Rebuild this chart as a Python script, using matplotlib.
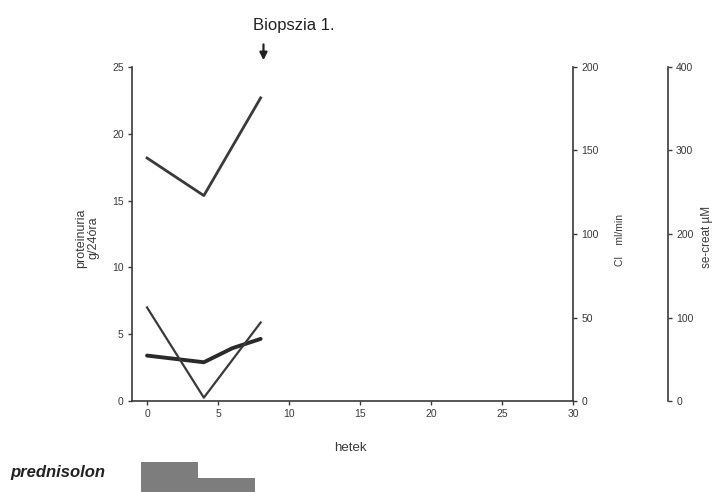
import matplotlib
matplotlib.use("Agg")
import matplotlib.pyplot as plt

plt.rcParams['font.family'] = ['Liberation Sans', 'DejaVu Sans']

# hetek (weeks)
weeks = [0, 4, 8]
weeks_prot = [0, 2, 4, 6, 8]
# proteinuria g/24óra (thick line)
proteinuria = [3.4, 3.15, 2.9, 3.95, 4.65]
# se-creat µM (upper line)
se_creat = [291, 246, 363]
# Cl ml/min (thin line)
clearance = [56, 2, 47]

# prednisolon periods
pred_start = [-0.4, 3.6]
pred_width = [4.0, 4.0]
pred_dose = [60, 28]

ink = '#3a3a3a'

fig = plt.figure(figsize=(7.16, 4.92), dpi=100)
ax = fig.add_axes([132 / 716, 1 - 401 / 492, 441 / 716, 334 / 492])

ax.plot(weeks_prot, proteinuria, color='#2a2a2a', lw=2.8, solid_capstyle='round')
ax.set_xlim(-1.06, 30)
ax.set_ylim(0, 25)
ax.set_xticks([0, 5, 10, 15, 20, 25, 30])
ax.set_yticks([0, 5, 10, 15, 20, 25])

ax_cl = ax.twinx()
ax_cl.plot(weeks, clearance, color=ink, lw=1.6)
ax_cl.set_ylim(0, 200)
ax_cl.set_yticks([0, 50, 100, 150, 200])

ax_cr = ax.twinx()
ax_cr.spines['right'].set_position(('axes', 1.215))
ax_cr.plot(weeks, se_creat, color=ink, lw=2.0)
ax_cr.set_ylim(0, 400)
ax_cr.set_yticks([0, 100, 200, 300, 400])

for a in (ax, ax_cl, ax_cr):
    a.spines['top'].set_visible(False)
    a.tick_params(labelsize=7.5, colors=ink, length=3, width=1, pad=3)
    for s in a.spines.values():
        s.set_color(ink)
        s.set_linewidth(1.2)
ax.spines['right'].set_visible(False)
ax_cl.spines['left'].set_visible(False)
ax_cl.spines['bottom'].set_visible(False)
ax_cr.spines['left'].set_visible(False)
ax_cr.spines['bottom'].set_visible(False)

# axis labels
fig.text(87 / 716, 1 - 238 / 492, 'proteinuria\ng/24óra', rotation=90,
         ha='center', va='center', fontsize=9, color=ink, linespacing=1.0)
fig.text(620 / 716, 1 - 240 / 492, 'Cl    ml/min', rotation=90,
         ha='center', va='center', fontsize=7.5, color=ink)
fig.text(707 / 716, 1 - 237 / 492, 'se-creat µM', rotation=90,
         ha='center', va='center', fontsize=8.5, color=ink)
fig.text(350 / 716, 1 - 448 / 492, 'hetek', ha='center', va='center',
         fontsize=9.5, color=ink)

# biopsy marker
ax.annotate('', xy=(8.2, 25.3), xytext=(8.2, 26.9),
            arrowprops=dict(arrowstyle='-|>', color='#222222', lw=1.6,
                            mutation_scale=11),
            annotation_clip=False)
ax.text(10.3, 28.1, 'Biopszia 1.', ha='center', va='center', fontsize=12,
        color='#222222', clip_on=False)

# prednisolon bars
ax_p = fig.add_axes([132 / 716, 0, 441 / 716, 30 / 492])
ax_p.bar(pred_start, pred_dose, width=pred_width, align='edge',
         color='#7d7d7d', edgecolor='none')
ax_p.set_xlim(-1.06, 30)
ax_p.set_ylim(0, 60)
ax_p.axis('off')
fig.text(10 / 716, 1 - 472 / 492, 'prednisolon', ha='left', va='center',
         fontsize=12, fontweight='bold', fontstyle='italic', color='#222222')

fig.savefig('out.png', dpi=100)
